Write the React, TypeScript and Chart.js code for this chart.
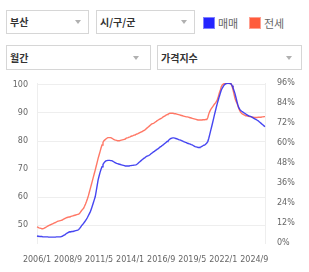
import React, { useEffect, useRef } from "react";
import { Chart, registerables } from "chart.js";

Chart.register(...registerables);

const startYear = 2006;
const monthCount = 236;
const tickLabels = ["2006/1", "2008/9", "2011/5", "2014/1", "2016/9", "2019/5", "2022/1", "2024/9"];
const leftTicks = [50, 60, 70, 80, 90, 100];
const rightTicks = [0, 12, 24, 36, 48, 60, 72, 84, 96];

const saleIndex = [
  46.1, 46.0, 46.0, 45.9, 45.9, 45.9, 45.8, 45.8, 45.8, 45.8, 45.8, 45.8,
  45.7, 45.7, 45.7, 45.7, 45.7, 45.7, 45.7, 45.7, 45.8, 45.8, 45.8, 45.8,
  45.8, 45.9, 46.0, 46.2, 46.4, 46.6, 46.9, 47.1, 47.3, 47.5, 47.6, 47.6,
  47.7, 47.7, 47.8, 47.9, 48.0, 48.1, 48.2, 48.4, 48.8, 49.3, 49.8, 50.2,
  50.6, 51.1, 51.6, 52.1, 52.7, 53.4, 54.1, 54.8, 55.7, 56.8, 57.9, 59.0,
  60.1, 62.0, 64.1, 66.1, 67.5, 68.8, 69.9, 70.8, 71.6, 72.2, 72.6, 72.9,
  73.0, 73.1, 73.1, 73.1, 73.0, 73.0, 72.8, 72.6, 72.4, 72.2, 72.0, 71.9,
  71.8, 71.7, 71.6, 71.5, 71.4, 71.3, 71.2, 71.1, 71.1, 71.1, 71.1, 71.1,
  71.2, 71.2, 71.3, 71.3, 71.4, 71.4, 71.5, 71.7, 72.0, 72.3, 72.6, 72.9,
  73.2, 73.5, 73.8, 74.0, 74.3, 74.5, 74.7, 74.8, 75.0, 75.3, 75.6, 75.8,
  76.1, 76.3, 76.6, 76.8, 77.1, 77.3, 77.6, 77.9, 78.1, 78.4, 78.6, 78.9,
  79.2, 79.5, 79.8, 80.0, 80.4, 80.7, 80.9, 81.0, 81.1, 81.1, 81.0, 80.9,
  80.8, 80.7, 80.5, 80.4, 80.3, 80.1, 80.0, 79.8, 79.7, 79.5, 79.4, 79.2,
  79.1, 79.0, 78.9, 78.7, 78.6, 78.4, 78.2, 78.0, 77.9, 77.8, 77.7, 77.7,
  77.8, 77.9, 78.1, 78.3, 78.5, 78.6, 78.9, 79.3, 79.8, 80.9, 82.3, 83.7,
  85.1, 86.5, 88.0, 89.5, 90.9, 92.3, 93.6, 94.8, 96.0, 97.1, 98.2, 98.9,
  99.5, 100.0, 100.3, 100.5, 100.6, 100.6, 100.6, 100.5, 100.4, 99.8, 99.0, 98.0,
  97.0, 95.6, 94.2, 92.9, 91.9, 91.3, 90.9, 90.6, 90.4, 90.1, 89.9, 89.7,
  89.4, 89.2, 89.0, 88.9, 88.8, 88.6, 88.4, 88.2, 88.0, 87.8, 87.6, 87.4,
  87.2, 86.9, 86.6, 86.3, 86.0, 85.7, 85.4, 85.1,
];

const jeonseIndex = [
  49.4, 49.2, 49.0, 48.9, 48.8, 48.7, 48.7, 48.8, 49.0, 49.2, 49.4, 49.6,
  49.8, 50.0, 50.1, 50.3, 50.4, 50.6, 50.8, 50.9, 51.1, 51.3, 51.4, 51.5,
  51.6, 51.7, 51.8, 52.0, 52.2, 52.4, 52.6, 52.7, 52.8, 52.9, 53.0, 53.1,
  53.2, 53.3, 53.4, 53.5, 53.6, 53.7, 53.8, 53.9, 54.2, 54.7, 55.2, 55.6,
  56.0, 56.7, 57.5, 58.4, 59.4, 60.5, 61.8, 63.1, 64.4, 65.7, 67.0, 68.3,
  69.6, 71.0, 72.4, 73.8, 75.0, 76.2, 77.5, 78.6, 79.5, 80.1, 80.4, 80.7,
  81.0, 81.2, 81.2, 81.2, 81.2, 81.0, 80.8, 80.6, 80.4, 80.3, 80.2, 80.1,
  80.1, 80.1, 80.2, 80.3, 80.4, 80.5, 80.6, 80.7, 81.0, 81.1, 81.2, 81.4,
  81.5, 81.7, 81.8, 81.9, 82.1, 82.2, 82.4, 82.5, 82.6, 82.8, 83.0, 83.2,
  83.3, 83.5, 83.7, 83.9, 84.2, 84.5, 84.8, 85.1, 85.4, 85.7, 86.0, 86.2,
  86.3, 86.5, 86.8, 87.0, 87.3, 87.5, 87.7, 87.9, 88.1, 88.3, 88.6, 88.8,
  89.0, 89.2, 89.4, 89.6, 89.8, 89.9, 89.9, 89.9, 89.9, 89.8, 89.7, 89.7,
  89.6, 89.5, 89.4, 89.3, 89.2, 89.1, 89.0, 88.9, 88.8, 88.7, 88.6, 88.6,
  88.5, 88.4, 88.3, 88.2, 88.1, 88.0, 87.9, 87.8, 87.7, 87.6, 87.5, 87.5,
  87.5, 87.5, 87.5, 87.6, 87.6, 87.6, 87.7, 87.7, 88.3, 89.6, 90.5, 91.2,
  91.7, 92.2, 92.7, 93.2, 93.6, 94.1, 94.9, 96.0, 97.2, 98.2, 99.4, 100.0,
  100.3, 100.5, 100.6, 100.7, 100.7, 100.7, 100.6, 100.6, 100.4, 99.6, 98.3, 96.8,
  95.3, 94.3, 93.6, 92.6, 91.6, 90.8, 90.2, 89.8, 89.6, 89.4, 89.2, 89.0,
  89.0, 88.9, 88.8, 88.7, 88.7, 88.6, 88.5, 88.5, 88.4, 88.4, 88.4, 88.4,
  88.5, 88.5, 88.5, 88.5, 88.6, 88.6, 88.7, 88.7,
];

const months: string[] = [];
for (let i = 0; i < monthCount; i++) {
  months.push(`${startYear + Math.floor(i / 12)}/${(i % 12) + 1}`);
}

const tickFont = { family: "'DejaVu Sans', sans-serif", size: 8 };
const tickColor = "#666";

function SelectBox(props: { left: number; top: number; width: number; height: number; text: string; arrowRight: number }) {
  const { left, top, width, height, text, arrowRight } = props;
  return (
    <div
      style={{
        position: "absolute",
        left,
        top,
        width,
        height,
        boxSizing: "border-box",
        border: "1px solid #d6d6d6",
        background: "#fff",
        fontFamily: "'Noto Sans CJK KR', sans-serif",
        fontSize: 10,
        fontWeight: 700,
        color: "#333",
        lineHeight: `${height - 2}px`,
        paddingLeft: 3,
      }}
    >
      {text}
      <div
        style={{
          position: "absolute",
          right: arrowRight,
          top: (height - 2) / 2 - 2,
          width: 0,
          height: 0,
          borderLeft: "3px solid transparent",
          borderRight: "3px solid transparent",
          borderTop: "4px solid #b0b0b0",
        }}
      />
    </div>
  );
}

export default function App() {
  const canvasRef = useRef<HTMLCanvasElement | null>(null);

  useEffect(() => {
    if (!canvasRef.current) return;
    const chart = new Chart(canvasRef.current, {
      type: "line",
      data: {
        labels: months,
        datasets: [
          {
            label: "매매",
            data: saleIndex,
            borderColor: "rgba(50,50,240,0.9)",
            borderWidth: 1.4,
            pointRadius: 0,
            tension: 0,
            yAxisID: "y",
          },
          {
            label: "전세",
            data: jeonseIndex,
            borderColor: "rgba(255,105,85,0.9)",
            borderWidth: 1.4,
            pointRadius: 0,
            tension: 0,
            yAxisID: "y",
          },
        ],
      },
      options: {
        responsive: false,
        animation: false,
        layout: { padding: { top: 8, left: 0, right: 0, bottom: 0 } },
        plugins: { legend: { display: false }, tooltip: { enabled: false } },
        scales: {
          x: {
            type: "category",
            offset: false,
            grid: { display: true, drawOnChartArea: false, drawTicks: true, tickLength: 12, tickColor: "rgba(0,0,0,0)", color: "rgba(0,0,0,0)" },
            border: { display: false },
            ticks: {
              autoSkip: false,
              maxRotation: 0,
              minRotation: 0,
              padding: 0,
              font: tickFont,
              color: tickColor,
              callback: (_v: any, i: number) => (tickLabels.includes(months[i]) ? months[i] : null),
            },
            afterFit: (s: any) => {
              s.height = 29;
            },
          },
          y: {
            position: "left",
            min: 43.6,
            max: 100.7,
            grid: { color: "#eeeeee", drawTicks: true, tickLength: 9, tickColor: "rgba(0,0,0,0)" },
            border: { display: true, color: "#eeeeee" },
            ticks: { padding: 0, font: tickFont, color: tickColor },
            afterBuildTicks: (s: any) => {
              s.ticks = leftTicks.map((v) => ({ value: v }));
            },
            afterFit: (s: any) => {
              s.width = 37;
            },
          },
          y2: {
            position: "right",
            min: 0,
            max: 96,
            grid: { display: true, drawOnChartArea: false, drawTicks: true, tickLength: 12, tickColor: "rgba(0,0,0,0)", color: "rgba(0,0,0,0)" },
            border: { display: true, color: "#eeeeee" },
            ticks: {
              padding: 0,
              font: tickFont,
              color: tickColor,
              callback: (v: any) => `${v}%`,
            },
            afterBuildTicks: (s: any) => {
              s.ticks = rightTicks.map((v) => ({ value: v }));
            },
            afterFit: (s: any) => {
              s.width = 44;
            },
          },
        },
      },
    });
    return () => chart.destroy();
  }, []);

  return (
    <div style={{ position: "fixed", left: 0, top: 0, width: 309, height: 272, background: "#fff", overflow: "hidden" }}>
      <SelectBox left={6} top={10} width={83} height={24} text="부산" arrowRight={7} />
      <SelectBox left={96} top={10} width={99} height={24} text="시/구/군" arrowRight={7} />
      <SelectBox left={6} top={45} width={145} height={25} text="월간" arrowRight={11} />
      <SelectBox left={157} top={45} width={145} height={25} text="가격지수" arrowRight={9} />
      <div style={{ position: "absolute", left: 203, top: 17, width: 12, height: 12, background: "#2424ff", boxSizing: "border-box", border: "1px solid #8080ff" }} />
      <div style={{ position: "absolute", left: 218, top: 15, fontFamily: "'Noto Sans CJK KR', sans-serif", fontSize: 11, color: "#666", lineHeight: "16px" }}>매매</div>
      <div style={{ position: "absolute", left: 249, top: 17, width: 12, height: 12, background: "#ff5c3c", boxSizing: "border-box", border: "1px solid #ffa090" }} />
      <div style={{ position: "absolute", left: 264, top: 15, fontFamily: "'Noto Sans CJK KR', sans-serif", fontSize: 11, color: "#666", lineHeight: "16px" }}>전세</div>
      <canvas ref={canvasRef} width={309} height={197} style={{ position: "absolute", left: 0, top: 75, width: 309, height: 197 }} />
    </div>
  );
}
